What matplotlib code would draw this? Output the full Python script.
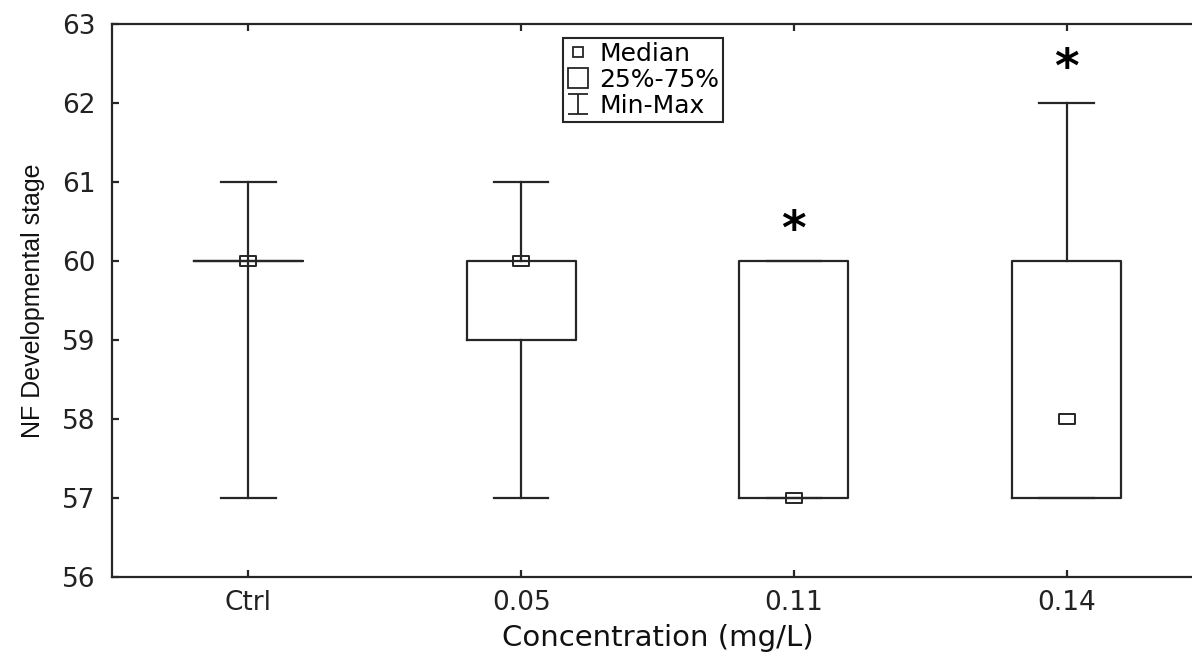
import matplotlib
matplotlib.use("Agg")
import matplotlib.pyplot as plt
from matplotlib.lines import Line2D
from matplotlib.path import Path

# Summary statistics of NF developmental stage per concentration group
groups = ["Ctrl", "0.05", "0.11", "0.14"]
mins = [57, 57, 57, 57]
q1s = [60, 59, 57, 57]
medians = [60, 60, 57, 58]
q3s = [60, 60, 60, 60]
maxs = [61, 61, 60, 62]

# Significance marks (group index, height)
sig_groups = [2, 3]
sig_heights = [60.37, 62.42]

yticks = [56, 57, 58, 59, 60, 61, 62, 63]

INK = "#262626"
LW = 1.6

plt.rcParams["font.family"] = ["DejaVu Sans"]

fig = plt.figure(figsize=(11.92, 6.52), dpi=100)
ax = fig.add_axes([112 / 1192, 75 / 652, (1203 - 112) / 1192, (577 - 24) / 652])

positions = list(range(len(groups)))
stats = []
for g, lo, a, m, b, hi in zip(groups, mins, q1s, medians, q3s, maxs):
    stats.append(dict(label=g, whislo=lo, q1=a, med=m, q3=b, whishi=hi, fliers=[]))

ax.bxp(
    stats,
    positions=positions,
    widths=0.4,
    showfliers=False,
    boxprops=dict(color=INK, linewidth=LW),
    whiskerprops=dict(color=INK, linewidth=LW),
    capprops=dict(color=INK, linewidth=LW),
    medianprops=dict(visible=False),
    capwidths=0.2,
    manage_ticks=False,
)

# Hollow rectangular median markers
rect = Path([(-0.75, -0.5), (0.75, -0.5), (0.75, 0.5), (-0.75, 0.5), (-0.75, -0.5)],
            [Path.MOVETO, Path.LINETO, Path.LINETO, Path.LINETO, Path.CLOSEPOLY])
ax.plot(positions, medians, linestyle="none", marker=rect, markersize=11,
        markerfacecolor="none", markeredgecolor=INK, markeredgewidth=1.4, zorder=5)

for gi, h in zip(sig_groups, sig_heights):
    ax.text(positions[gi], h, "*", ha="center", va="center", fontsize=34,
            fontweight="bold", color="black")

ax.set_xlim(-0.5, len(groups) - 0.5)
ax.set_ylim(56, 63)
ax.set_yticks(yticks)
ax.set_xticks(positions)
ax.set_xticklabels(groups)

ax.spines["right"].set_visible(False)
for s in ["left", "bottom", "top"]:
    ax.spines[s].set_linewidth(LW)
    ax.spines[s].set_color(INK)

ax.tick_params(axis="both", direction="in", length=5, width=LW, color=INK,
               labelsize=19, labelcolor="#222222")
ax.tick_params(axis="x", top=True, pad=9)
ax.tick_params(axis="y", pad=12)

ax.set_xlabel("Concentration (mg/L)", fontsize=21, color="#111111", labelpad=6)
ax.set_ylabel("NF Developmental stage", fontsize=18, family=["Liberation Sans"],
              color="#111111", labelpad=12)

# Legend with custom glyphs
ibeam = Path([(-0.5, -0.5), (0.5, -0.5), (0, -0.5), (0, 0.5), (-0.5, 0.5), (0.5, 0.5)],
             [Path.MOVETO, Path.LINETO, Path.MOVETO, Path.LINETO, Path.MOVETO, Path.LINETO])
handles = [
    Line2D([], [], linestyle="none", marker="s", markersize=7.5, markerfacecolor="none",
           markeredgecolor=INK, markeredgewidth=1.3),
    Line2D([], [], linestyle="none", marker="s", markersize=14, markerfacecolor="none",
           markeredgecolor=INK, markeredgewidth=1.3),
    Line2D([], [], linestyle="none", marker=ibeam, markersize=14, markerfacecolor="none",
           markeredgecolor=INK, markeredgewidth=1.3),
]
leg = ax.legend(handles, ["Median", "25%-75%", "Min-Max"], loc="upper left",
                bbox_to_anchor=(563 / 1192, 1 - 38 / 652), bbox_transform=fig.transFigure,
                borderaxespad=0, fancybox=False, frameon=True, fontsize=18,
                handlelength=0.9, handletextpad=0.4, labelspacing=0.08,
                borderpad=0.15, framealpha=1)
leg.get_frame().set_edgecolor(INK)
leg.get_frame().set_linewidth(1.5)

fig.savefig("out.png", dpi=100)
